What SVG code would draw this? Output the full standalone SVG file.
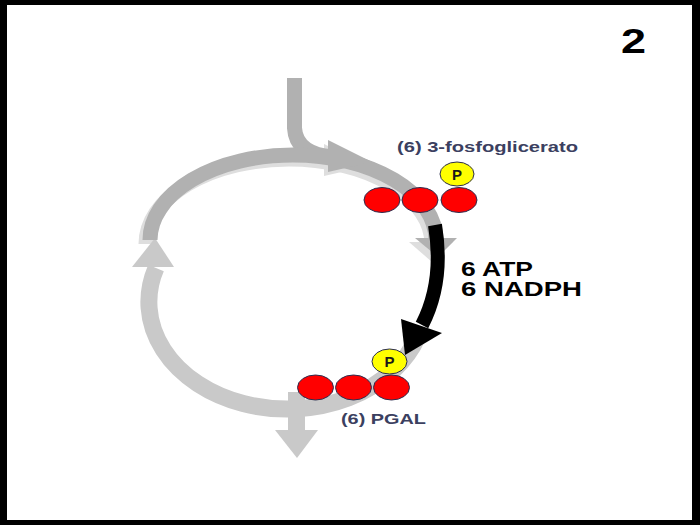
<svg xmlns="http://www.w3.org/2000/svg" width="700" height="525" viewBox="0 0 700 525">
<style>
.band{fill:none;stroke-linecap:butt}
.dark{stroke:#b1b1b1}
.light{stroke:#c9c9c9}
.shadow{stroke:#dedede}
.red{fill:#ff0000;stroke:#2b2d4f;stroke-width:1}
.pho{fill:#ffff00;stroke:#2b2d4f;stroke-width:1}
.ptxt{font-family:"Liberation Sans",Arial,sans-serif;font-weight:bold;font-size:15px;fill:#1a1a1a;text-anchor:middle}
.lbl{font-family:"Liberation Sans",Arial,sans-serif;font-weight:bold;fill:#3b4060}
.big{font-family:"Liberation Sans",Arial,sans-serif;font-weight:bold;fill:#000}
</style>
<rect x="0" y="0" width="700" height="525" fill="#000"/>
<rect x="7" y="5" width="685" height="515" fill="#fff"/>
<g id="connectors">
  <!-- shadows -->
  <g transform="translate(-4,4)">
    <path class="band shadow" stroke-width="15" d="M150,240 A143 85 0 0 1 436,240"/>
    <polygon fill="#dedede" points="413,238 457,238 436,258"/>
    <polygon fill="#dedede" points="328,140 372,162 328,172"/>
  </g>
  <!-- bottom arc (light) -->
  <path class="band light" stroke-width="17" d="M418,336 A138 107 0 0 1 156,268"/>
  <polygon fill="#c9c9c9" points="132,267 174,267 155,238"/>
  <path class="band light" stroke-width="17" d="M296.5,392 L296.5,431"/>
  <polygon fill="#c9c9c9" points="275,430 318,430 297,458"/>
  <!-- top input -->
  <path class="band dark" stroke-width="15" d="M294.5,78 L294.5,128 Q296,154 332,157"/>
  <!-- top arc (dark) -->
  <path class="band dark" stroke-width="15" d="M150,240 A143 85 0 0 1 436,240"/>
  <polygon fill="#b1b1b1" points="328,140 372,162 328,172"/>
  <polygon fill="#b1b1b1" points="415,238 457,238 438,257"/>
  <!-- black reduction arrow -->
  <path class="band" stroke="#000" stroke-width="14" d="M435,225 C440,255 440,290 422,325"/>
  <polygon fill="#000" points="401,319 442,333 405,355"/>
</g>
<g id="node-3pg">
  <ellipse class="red" cx="382" cy="200" rx="18" ry="12.5"/>
  <ellipse class="red" cx="420" cy="200" rx="18" ry="12.5"/>
  <ellipse class="red" cx="459" cy="200" rx="18" ry="12.5"/>
  <ellipse class="pho" cx="457" cy="174" rx="17" ry="12"/>
  <text class="ptxt" x="457" y="180">P</text>
  <text class="lbl" x="397" y="152" font-size="14" textLength="181" lengthAdjust="spacingAndGlyphs">(6) 3-fosfoglicerato</text>
</g>
<g id="node-pgal">
  <ellipse class="red" cx="315.5" cy="387.5" rx="18" ry="12.5"/>
  <ellipse class="red" cx="353.5" cy="387.5" rx="18" ry="12.5"/>
  <ellipse class="red" cx="391.5" cy="387.5" rx="18" ry="12.5"/>
  <ellipse class="pho" cx="389.5" cy="361.5" rx="17.5" ry="12.5"/>
  <text class="ptxt" x="389.5" y="367">P</text>
  <text class="lbl" x="341" y="424" font-size="15" textLength="85" lengthAdjust="spacingAndGlyphs">(6) PGAL</text>
</g>
<g id="node-energy">
  <text class="big" x="461" y="276" font-size="19.5" textLength="72" lengthAdjust="spacingAndGlyphs">6 ATP</text>
  <text class="big" x="461" y="296" font-size="19.5" textLength="121" lengthAdjust="spacingAndGlyphs">6 NADPH</text>
</g>
<g id="node-step">
  <text class="big" x="621" y="53" font-size="35" textLength="25" lengthAdjust="spacingAndGlyphs">2</text>
</g>
</svg>
